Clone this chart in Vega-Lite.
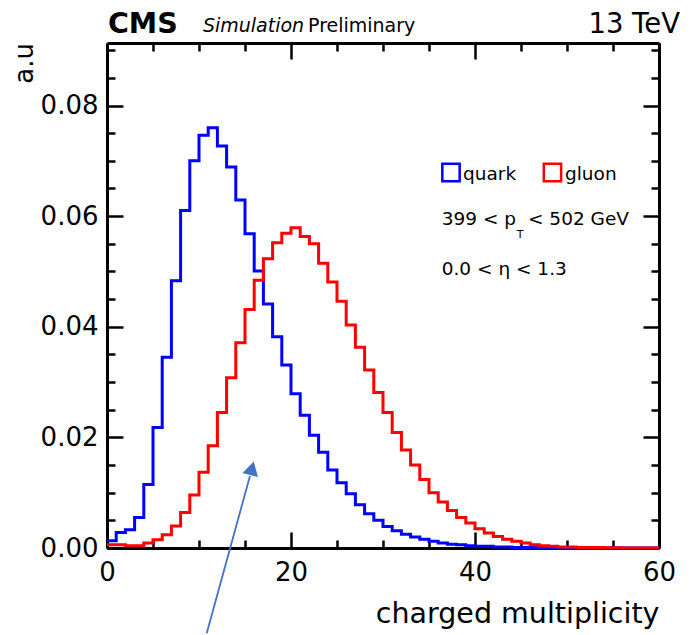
{
  "$schema": "https://vega.github.io/schema/vega-lite/v6.json",
  "width": 552,
  "height": 505,
  "autosize": {"type": "none"},
  "padding": {"left": 107, "top": 43, "right": 34, "bottom": 87},
  "background": "white",
  "config": {
    "view": {"stroke": null},
    "font": "DejaVu Sans",
    "axis": {
      "grid": false,
      "domainColor": "black",
      "domainWidth": 3,
      "tickColor": "black",
      "tickWidth": 2.5,
      "labelFont": "DejaVu Sans",
      "labelFontSize": 26,
      "labelColor": "black",
      "title": null
    }
  },
  "datasets": {
    "hist": [
      {"n": 0, "jet": "quark", "a": 0.0013}, {"n": 1, "jet": "quark", "a": 0.0028}, {"n": 2, "jet": "quark", "a": 0.0033},
      {"n": 3, "jet": "quark", "a": 0.0055}, {"n": 4, "jet": "quark", "a": 0.0115}, {"n": 5, "jet": "quark", "a": 0.0218},
      {"n": 6, "jet": "quark", "a": 0.0345}, {"n": 7, "jet": "quark", "a": 0.0483}, {"n": 8, "jet": "quark", "a": 0.0610},
      {"n": 9, "jet": "quark", "a": 0.0700}, {"n": 10, "jet": "quark", "a": 0.0746}, {"n": 11, "jet": "quark", "a": 0.0760},
      {"n": 12, "jet": "quark", "a": 0.0727}, {"n": 13, "jet": "quark", "a": 0.0689}, {"n": 14, "jet": "quark", "a": 0.0629},
      {"n": 15, "jet": "quark", "a": 0.0568}, {"n": 16, "jet": "quark", "a": 0.0501}, {"n": 17, "jet": "quark", "a": 0.0441},
      {"n": 18, "jet": "quark", "a": 0.0382}, {"n": 19, "jet": "quark", "a": 0.0331}, {"n": 20, "jet": "quark", "a": 0.0279},
      {"n": 21, "jet": "quark", "a": 0.0240}, {"n": 22, "jet": "quark", "a": 0.0204}, {"n": 23, "jet": "quark", "a": 0.0173},
      {"n": 24, "jet": "quark", "a": 0.0141}, {"n": 25, "jet": "quark", "a": 0.0118}, {"n": 26, "jet": "quark", "a": 0.0098},
      {"n": 27, "jet": "quark", "a": 0.0078}, {"n": 28, "jet": "quark", "a": 0.0062}, {"n": 29, "jet": "quark", "a": 0.0050},
      {"n": 30, "jet": "quark", "a": 0.0039}, {"n": 31, "jet": "quark", "a": 0.0031}, {"n": 32, "jet": "quark", "a": 0.0025},
      {"n": 33, "jet": "quark", "a": 0.0020}, {"n": 34, "jet": "quark", "a": 0.0016}, {"n": 35, "jet": "quark", "a": 0.0012},
      {"n": 36, "jet": "quark", "a": 0.0009}, {"n": 37, "jet": "quark", "a": 0.0007}, {"n": 38, "jet": "quark", "a": 0.0006},
      {"n": 39, "jet": "quark", "a": 0.0004}, {"n": 40, "jet": "quark", "a": 0.0003}, {"n": 41, "jet": "quark", "a": 0.0003},
      {"n": 42, "jet": "quark", "a": 0.0002}, {"n": 43, "jet": "quark", "a": 0.0002}, {"n": 44, "jet": "quark", "a": 0.0001},
      {"n": 45, "jet": "quark", "a": 0.0001}, {"n": 46, "jet": "quark", "a": 0.0001}, {"n": 47, "jet": "quark", "a": 0.0001},
      {"n": 48, "jet": "quark", "a": 0.00005}, {"n": 49, "jet": "quark", "a": 0.00005}, {"n": 50, "jet": "quark", "a": 0.0},
      {"n": 51, "jet": "quark", "a": 0.0}, {"n": 52, "jet": "quark", "a": 0.0}, {"n": 53, "jet": "quark", "a": 0.0},
      {"n": 54, "jet": "quark", "a": 0.0}, {"n": 55, "jet": "quark", "a": 0.0}, {"n": 56, "jet": "quark", "a": 0.0},
      {"n": 57, "jet": "quark", "a": 0.0}, {"n": 58, "jet": "quark", "a": 0.0}, {"n": 59, "jet": "quark", "a": 0.0},
      {"n": 60, "jet": "quark", "a": 0.0},
      {"n": 0, "jet": "gluon", "a": 0.0006}, {"n": 1, "jet": "gluon", "a": 0.0006}, {"n": 2, "jet": "gluon", "a": 0.0004},
      {"n": 3, "jet": "gluon", "a": 0.0004}, {"n": 4, "jet": "gluon", "a": 0.0009}, {"n": 5, "jet": "gluon", "a": 0.0015},
      {"n": 6, "jet": "gluon", "a": 0.0024}, {"n": 7, "jet": "gluon", "a": 0.0040}, {"n": 8, "jet": "gluon", "a": 0.0064},
      {"n": 9, "jet": "gluon", "a": 0.0096}, {"n": 10, "jet": "gluon", "a": 0.0137}, {"n": 11, "jet": "gluon", "a": 0.0185},
      {"n": 12, "jet": "gluon", "a": 0.0245}, {"n": 13, "jet": "gluon", "a": 0.0308}, {"n": 14, "jet": "gluon", "a": 0.0371},
      {"n": 15, "jet": "gluon", "a": 0.0431}, {"n": 16, "jet": "gluon", "a": 0.0484}, {"n": 17, "jet": "gluon", "a": 0.0523},
      {"n": 18, "jet": "gluon", "a": 0.0552}, {"n": 19, "jet": "gluon", "a": 0.0569}, {"n": 20, "jet": "gluon", "a": 0.0579},
      {"n": 21, "jet": "gluon", "a": 0.0563}, {"n": 22, "jet": "gluon", "a": 0.0550}, {"n": 23, "jet": "gluon", "a": 0.0515},
      {"n": 24, "jet": "gluon", "a": 0.0481}, {"n": 25, "jet": "gluon", "a": 0.0446}, {"n": 26, "jet": "gluon", "a": 0.0403},
      {"n": 27, "jet": "gluon", "a": 0.0363}, {"n": 28, "jet": "gluon", "a": 0.0322}, {"n": 29, "jet": "gluon", "a": 0.0281},
      {"n": 30, "jet": "gluon", "a": 0.0245}, {"n": 31, "jet": "gluon", "a": 0.0209}, {"n": 32, "jet": "gluon", "a": 0.0177},
      {"n": 33, "jet": "gluon", "a": 0.0150}, {"n": 34, "jet": "gluon", "a": 0.0124}, {"n": 35, "jet": "gluon", "a": 0.0100},
      {"n": 36, "jet": "gluon", "a": 0.0083}, {"n": 37, "jet": "gluon", "a": 0.0068}, {"n": 38, "jet": "gluon", "a": 0.0055},
      {"n": 39, "jet": "gluon", "a": 0.0045}, {"n": 40, "jet": "gluon", "a": 0.0035}, {"n": 41, "jet": "gluon", "a": 0.0027},
      {"n": 42, "jet": "gluon", "a": 0.0021}, {"n": 43, "jet": "gluon", "a": 0.0016}, {"n": 44, "jet": "gluon", "a": 0.0012},
      {"n": 45, "jet": "gluon", "a": 0.0009}, {"n": 46, "jet": "gluon", "a": 0.0006}, {"n": 47, "jet": "gluon", "a": 0.0004},
      {"n": 48, "jet": "gluon", "a": 0.0003}, {"n": 49, "jet": "gluon", "a": 0.0002}, {"n": 50, "jet": "gluon", "a": 0.0002},
      {"n": 51, "jet": "gluon", "a": 0.0001}, {"n": 52, "jet": "gluon", "a": 0.0001}, {"n": 53, "jet": "gluon", "a": 0.0001},
      {"n": 54, "jet": "gluon", "a": 0.00005}, {"n": 55, "jet": "gluon", "a": 0.00005}, {"n": 56, "jet": "gluon", "a": 0.0},
      {"n": 57, "jet": "gluon", "a": 0.0}, {"n": 58, "jet": "gluon", "a": 0.0}, {"n": 59, "jet": "gluon", "a": 0.0},
      {"n": 60, "jet": "gluon", "a": 0.0}
    ]
  },
  "layer": [
    {
      "data": {"name": "hist"},
      "transform": [{"filter": "datum.jet === 'quark'"}],
      "mark": {"type": "line", "interpolate": "step-after", "strokeWidth": 3, "color": "#0000ff"},
      "encoding": {
        "x": {
          "field": "n", "type": "quantitative",
          "scale": {"domain": [0, 60], "nice": false, "zero": false},
          "axis": {
            "orient": "bottom",
            "values": [0, 5, 10, 15, 20, 25, 30, 35, 40, 45, 50, 55, 60],
            "format": "d",
            "labelExpr": "datum.value % 20 === 0 ? datum.label : ''",
            "labelFlush": false,
            "labelOverlap": false,
            "tickSize": {"condition": {"test": "datum.value % 20 === 0", "value": -16}, "value": -8},
            "labelPadding": 27
          }
        },
        "y": {
          "field": "a", "type": "quantitative",
          "scale": {"domain": [0, 0.0913], "nice": false},
          "axis": {
            "orient": "left",
            "values": [0, 0.005, 0.01, 0.015, 0.02, 0.025, 0.03, 0.035, 0.04, 0.045, 0.05, 0.055, 0.06, 0.065, 0.07, 0.075, 0.08, 0.085, 0.09],
            "format": ".2f",
            "labelExpr": "round(datum.value * 1000) % 20 === 0 ? datum.label : ''",
            "labelOverlap": false,
            "labelFlush": false,
            "tickSize": {"condition": {"test": "round(datum.value * 1000) % 20 === 0", "value": -16}, "value": -8},
            "labelPadding": 25
          }
        }
      }
    },
    {
      "data": {"name": "hist"},
      "transform": [{"filter": "datum.jet === 'gluon'"}],
      "mark": {"type": "line", "interpolate": "step-after", "strokeWidth": 3, "color": "#ff0000"},
      "encoding": {
        "x": {
          "field": "n", "type": "quantitative",
          "axis": {
            "orient": "top",
            "values": [0, 5, 10, 15, 20, 25, 30, 35, 40, 45, 50, 55, 60],
            "labels": false,
            "tickSize": {"condition": {"test": "datum.value % 20 === 0", "value": -16}, "value": -8}
          }
        },
        "y": {
          "field": "a", "type": "quantitative",
          "axis": {
            "orient": "right",
            "values": [0, 0.005, 0.01, 0.015, 0.02, 0.025, 0.03, 0.035, 0.04, 0.045, 0.05, 0.055, 0.06, 0.065, 0.07, 0.075, 0.08, 0.085, 0.09],
            "labels": false,
            "tickSize": {"condition": {"test": "round(datum.value * 1000) % 20 === 0", "value": -16}, "value": -8}
          }
        }
      }
    },
    {
      "data": {"values": [{}]},
      "mark": {"type": "text", "text": "CMS", "font": "DejaVu Sans", "fontWeight": "bold", "fontSize": 28.5, "align": "left", "baseline": "alphabetic", "color": "black"},
      "encoding": {"x": {"datum": 0.1, "type": "quantitative", "axis": null}, "y": {"datum": 0.09305, "type": "quantitative", "axis": null}}
    },
    {
      "data": {"values": [{}]},
      "mark": {"type": "text", "text": "Simulation", "font": "DejaVu Sans", "fontStyle": "italic", "fontSize": 19, "align": "left", "baseline": "alphabetic", "color": "black"},
      "encoding": {"x": {"datum": 10.43, "type": "quantitative", "axis": null}, "y": {"datum": 0.09329, "type": "quantitative", "axis": null}}
    },
    {
      "data": {"values": [{}]},
      "mark": {"type": "text", "text": "Preliminary", "font": "DejaVu Sans", "fontSize": 19, "align": "left", "baseline": "alphabetic", "color": "black"},
      "encoding": {"x": {"datum": 21.85, "type": "quantitative", "axis": null}, "y": {"datum": 0.09329, "type": "quantitative", "axis": null}}
    },
    {
      "data": {"values": [{}]},
      "mark": {"type": "text", "text": "13 TeV", "font": "DejaVu Sans", "fontSize": 27.5, "align": "right", "baseline": "alphabetic", "color": "black"},
      "encoding": {"x": {"datum": 62.28, "type": "quantitative", "axis": null}, "y": {"datum": 0.09311, "type": "quantitative", "axis": null}}
    },
    {
      "data": {"values": [{}]},
      "mark": {"type": "text", "text": "a.u", "font": "DejaVu Sans", "fontSize": 26, "angle": -90, "align": "right", "baseline": "alphabetic", "color": "black"},
      "encoding": {"x": {"datum": -8.04, "type": "quantitative", "axis": null}, "y": {"datum": 0.0913, "type": "quantitative", "axis": null}}
    },
    {
      "data": {"values": [{}]},
      "mark": {"type": "text", "text": "charged multiplicity", "font": "DejaVu Sans", "fontSize": 28.5, "align": "right", "baseline": "alphabetic", "color": "black"},
      "encoding": {"x": {"datum": 60.05, "type": "quantitative", "axis": null}, "y": {"datum": -0.01356, "type": "quantitative", "axis": null}}
    },
    {
      "data": {"values": [{}]},
      "mark": {"type": "point", "shape": "square", "filled": false, "size": 300, "strokeWidth": 2.5, "color": "#0000ff", "opacity": 1},
      "encoding": {"x": {"datum": 37.39, "type": "quantitative", "axis": null}, "y": {"datum": 0.06789, "type": "quantitative", "axis": null}}
    },
    {
      "data": {"values": [{}]},
      "mark": {"type": "text", "text": "quark", "font": "DejaVu Sans", "fontSize": 18.5, "align": "left", "baseline": "alphabetic", "color": "black"},
      "encoding": {"x": {"datum": 38.7, "type": "quantitative", "axis": null}, "y": {"datum": 0.06662, "type": "quantitative", "axis": null}}
    },
    {
      "data": {"values": [{}]},
      "mark": {"type": "point", "shape": "square", "filled": false, "size": 300, "strokeWidth": 2.5, "color": "#ff0000", "opacity": 1},
      "encoding": {"x": {"datum": 48.42, "type": "quantitative", "axis": null}, "y": {"datum": 0.06789, "type": "quantitative", "axis": null}}
    },
    {
      "data": {"values": [{}]},
      "mark": {"type": "text", "text": "gluon", "font": "DejaVu Sans", "fontSize": 18.5, "align": "left", "baseline": "alphabetic", "color": "black"},
      "encoding": {"x": {"datum": 49.78, "type": "quantitative", "axis": null}, "y": {"datum": 0.06662, "type": "quantitative", "axis": null}}
    },
    {
      "data": {"values": [{}]},
      "mark": {"type": "text", "text": "399 < p", "font": "DejaVu Sans", "fontSize": 18.5, "align": "left", "baseline": "alphabetic", "color": "black"},
      "encoding": {"x": {"datum": 36.38, "type": "quantitative", "axis": null}, "y": {"datum": 0.05839, "type": "quantitative", "axis": null}}
    },
    {
      "data": {"values": [{}]},
      "mark": {"type": "text", "text": "T", "font": "DejaVu Sans", "fontSize": 11, "align": "left", "baseline": "alphabetic", "color": "black"},
      "encoding": {"x": {"datum": 44.53, "type": "quantitative", "axis": null}, "y": {"datum": 0.05599, "type": "quantitative", "axis": null}}
    },
    {
      "data": {"values": [{}]},
      "mark": {"type": "text", "text": "< 502 GeV", "font": "DejaVu Sans", "fontSize": 18.5, "align": "left", "baseline": "alphabetic", "color": "black"},
      "encoding": {"x": {"datum": 45.76, "type": "quantitative", "axis": null}, "y": {"datum": 0.05839, "type": "quantitative", "axis": null}}
    },
    {
      "data": {"values": [{}]},
      "mark": {"type": "text", "text": "0.0 < η < 1.3", "font": "DejaVu Sans", "fontSize": 18.5, "align": "left", "baseline": "alphabetic", "color": "black"},
      "encoding": {"x": {"datum": 36.38, "type": "quantitative", "axis": null}, "y": {"datum": 0.04936, "type": "quantitative", "axis": null}}
    },
    {
      "data": {"values": [{}]},
      "mark": {"type": "rule", "color": "#4472C4", "strokeWidth": 1.8},
      "encoding": {
        "x": {"datum": 10.84, "type": "quantitative", "axis": null},
        "y": {"datum": -0.01542, "type": "quantitative", "axis": null},
        "x2": {"datum": 15.54},
        "y2": {"datum": 0.01302}
      }
    },
    {
      "data": {"values": [{}]},
      "mark": {"type": "point", "shape": "triangle-up", "filled": true, "size": 256, "angle": 15, "color": "#4472C4", "opacity": 1},
      "encoding": {"x": {"datum": 15.76, "type": "quantitative", "axis": null}, "y": {"datum": 0.01441, "type": "quantitative", "axis": null}}
    }
  ],
  "resolve": {"axis": {"x": "independent", "y": "independent"}}
}
